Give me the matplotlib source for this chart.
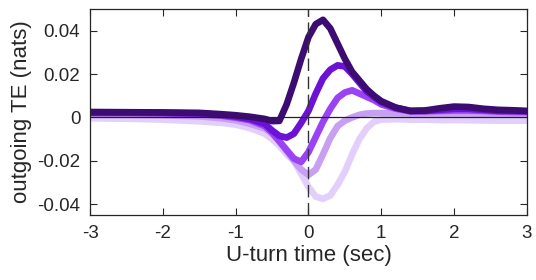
import numpy as np
import matplotlib
matplotlib.use("Agg")
import matplotlib.pyplot as plt

plt.rcParams["font.family"] = ["Liberation Sans", "DejaVu Sans"]

# time axis (sec, relative to U-turn)
t = [-3, -2.5, -2, -1.5, -1.2, -1, -0.8, -0.6, -0.5, -0.4, -0.3, -0.2, -0.1, 0,
     0.1, 0.2, 0.3, 0.4, 0.5, 0.6, 0.7, 0.8, 0.9, 1.0, 1.2, 1.4, 1.6, 1.8, 2.0,
     2.2, 2.4, 2.6, 2.8, 3.0]

# outgoing TE curves, darkest to lightest
te1 = [0.0025, 0.0024, 0.0023, 0.0021, 0.0015, 0.001, 0.0003, -0.0007, -0.0017, -0.0016,
       0.006, 0.016, 0.027, 0.037, 0.043, 0.045, 0.041, 0.034, 0.027, 0.021, 0.017,
       0.013, 0.010, 0.0075, 0.0045, 0.003, 0.0032, 0.0042, 0.005, 0.0048, 0.004,
       0.0035, 0.0033, 0.003]
te2 = [0.0022, 0.0022, 0.0021, 0.0018, 0.0012, 0.0004, -0.0008, -0.003, -0.006, -0.0085,
       -0.0093, -0.0075, -0.0025, 0.003, 0.011, 0.018, 0.022, 0.024, 0.0235, 0.020,
       0.016, 0.012, 0.0095, 0.007, 0.0045, 0.003, 0.003, 0.0035, 0.004, 0.004,
       0.0035, 0.003, 0.003, 0.0028]
te3 = [0.002, 0.002, 0.0019, 0.0015, 0.0008, -0.0001, -0.0013, -0.004, -0.007, -0.011,
       -0.015, -0.019, -0.0205, -0.016, -0.009, -0.002, 0.004, 0.009, 0.0115, 0.0125,
       0.011, 0.0095, 0.008, 0.006, 0.004, 0.0028, 0.0028, 0.003, 0.0032, 0.0032,
       0.003, 0.0027, 0.0025, 0.0025]
te4 = [0.0012, 0.0012, 0.001, 0.0005, -0.0004, -0.0013, -0.003, -0.005, -0.0075, -0.011,
       -0.0155, -0.020, -0.024, -0.0265, -0.024, -0.017, -0.0095, -0.004, -0.0015, 0.0,
       0.0012, 0.0018, 0.002, 0.002, 0.002, 0.0018, 0.0018, 0.0018, 0.0018, 0.0018,
       0.0016, 0.0015, 0.0014, 0.0012]
te5 = [-0.0004, -0.0006, -0.001, -0.0018, -0.0025, -0.0033, -0.005, -0.0075, -0.010, -0.013,
       -0.017, -0.020, -0.026, -0.032, -0.0365, -0.0375, -0.036, -0.031, -0.025, -0.017,
       -0.010, -0.005, -0.002, -0.001, -0.0008, -0.001, -0.001, -0.0012, -0.0012, -0.0013,
       -0.0014, -0.0015, -0.0015, -0.0015]

curves = [te1, te2, te3, te4, te5]
colors = ["#3d0c72", "#6c12d6", "#9c42f5", "#c8a0f3", "#e3cffb"]

fig = plt.figure(figsize=(5.36, 2.80), dpi=100)
ax = fig.add_axes([0.168, 0.232, 0.815, 0.736])

# lightest first so darker curves sit on top
for y, c in reversed(list(zip(curves, colors))):
    ax.plot(t, y, color=c, lw=4.8, solid_joinstyle="round", solid_capstyle="round")

ax.axhline(0, color="#222222", lw=0.9, zorder=5)
ax.axvline(0, color="#333333", lw=1.0, linestyle=(0, (9, 4)), zorder=6)

ax.set_xlim(-3, 3)
ax.set_ylim(-0.045, 0.050)
ax.set_xticks([-3, -2, -1, 0, 1, 2, 3])
ax.set_yticks([-0.04, -0.02, 0, 0.02, 0.04])
ax.set_yticklabels(["-0.04", "-0.02", "0", "0.02", "0.04"])
ax.set_xticklabels(["-3", "-2", "-1", "0", "1", "2", "3"])
ax.tick_params(direction="in", top=True, right=True, length=5, width=0.8,
               color="#262626", labelsize=13.5, labelcolor="#262626", pad=7)
for s in ax.spines.values():
    s.set_color("#262626")
    s.set_linewidth(0.9)

ax.set_xlabel("U-turn time (sec)", fontsize=16, color="#262626", labelpad=2)
ax.set_ylabel("outgoing TE (nats)", fontsize=16, color="#262626", labelpad=4)

fig.savefig("out.png", dpi=100)
